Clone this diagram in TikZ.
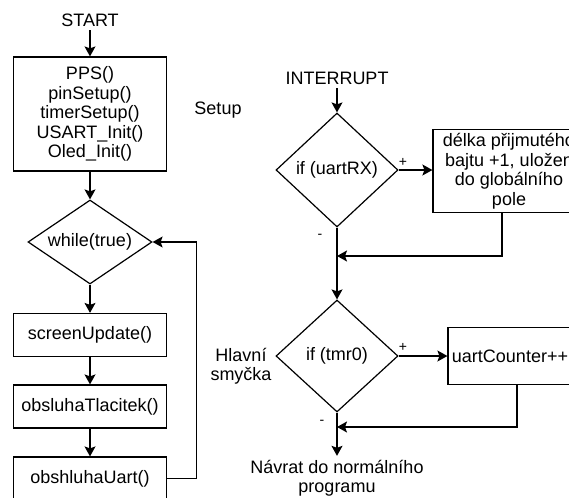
\documentclass[tikz,border=0pt]{standalone}
\usepackage{fontspec}
\setmainfont{Liberation Sans}
\usetikzlibrary{shapes.geometric,arrows.meta}

\begin{document}
\begin{tikzpicture}[x=1pt,y=-1pt,
	font=\fontsize{18}{19.5}\selectfont,
	line width=1.2pt,
	box/.style={draw,rectangle,minimum width=153pt,align=center,inner sep=2pt},
	cond/.style={draw,diamond,inner sep=0pt},
	sign/.style={font=\fontsize{14}{14}\selectfont,inner sep=1pt},
	flow/.style={-{Stealth[length=10pt,width=11pt,inset=2pt]}}]
	\clip (0,0) rectangle (569,497);
	\node (start) at (90,20) {START};
	\node[box,minimum height=114pt] (setup) at (90,114) {PPS()\\pinSetup()\\timerSetup()\\USART\_Init()\\Oled\_Init()};
	\node[cond,shape aspect=1.5,minimum width=124pt,minimum height=84pt] (while) at (90,242) {while(true)};
	\node[box,minimum height=43pt] (screen) at (90,335) {screenUpdate()};
	\node[box,minimum height=43pt] (tlac) at (90,406.5) {obsluhaTlacitek()};
	\node[box,minimum height=43pt] (uart) at (90,478.5) {obshluhaUart()};
	\node (setuplbl) at (218,110) {Setup};
	\node[align=center] (mainlbl) at (241,366) {Hlavní\\smyčka};
	\node (irq) at (337,78) {INTERRUPT};
	\node[cond,minimum width=122pt,minimum height=114pt] (rx) at (337,170) {if (uartRX)};
	\node[box,minimum width=152pt,minimum height=83pt] (rxbox) at (509,171) {délka přijmutého\\bajtu +1, uložen\\do globálního\\pole};
	\node[cond,minimum width=122pt,minimum height=112pt] (tmr) at (337,356) {if (tmr0)};
	\node[box,minimum width=124pt,minimum height=57pt] (cnt) at (510,356) {uartCounter++};
	\node[align=center] (ret) at (337,478) {Návrat do normálního\\programu};
	\node[sign] (rxplus) at (403,162) {+};
	\node[sign] (rxminus) at (320,236) {-};
	\node[sign] (tmrplus) at (403,347) {+};
	\node[sign] (tmrminus) at (322,422) {-};
	\coordinate (rxjoin) at (337,256);
	\coordinate (tmrjoin) at (337,427);
	\draw[flow] (start) -- (setup);
	\draw[flow] (setup) -- (while);
	\draw[flow] (while) -- (screen);
	\draw[flow] (screen) -- (tlac);
	\draw[flow] (tlac) -- (uart);
	\draw[flow] (uart.east) -- ++(29,0) |- (while.east);
	\draw[flow] (irq) -- (rx);
	\draw[flow] (rx.east) -- (rx.east -| rxbox.west);
	\draw[flow] (rx.south) -- (tmr.north);
	\draw[flow] ([xshift=-7pt]rxbox.south) |- (rxjoin);
	\draw[flow] (tmr.east) -- (tmr.east -| cnt.west);
	\draw[flow] ([xshift=7pt]cnt.south) |- (tmrjoin);
	\draw[flow] (tmr.south) -- (ret.north);
\end{tikzpicture}
\end{document}
